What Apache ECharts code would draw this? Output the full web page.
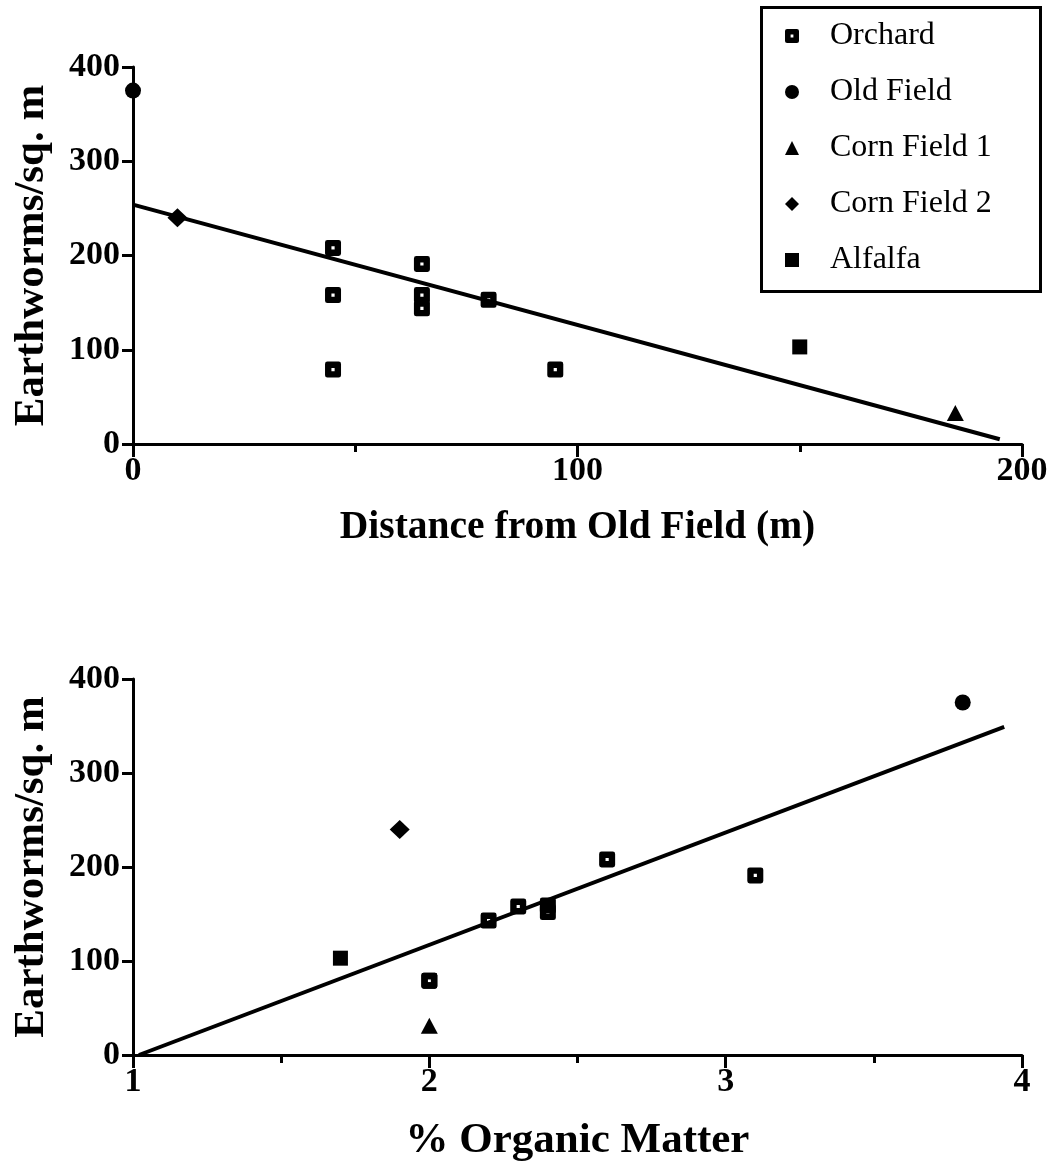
<!DOCTYPE html>
<html>
<head>
<meta charset="utf-8">
<script src="https://cdn.jsdelivr.net/npm/echarts@6/dist/echarts.min.js"></script>
<style>
html,body{margin:0;padding:0;background:#fff;}
#c{width:1064px;height:1169px;}
</style>
</head>
<body>
<div id="c"></div>
<script>
// ---------- data ----------
const seriesNames = ['Orchard', 'Old Field', 'Corn Field 1', 'Corn Field 2', 'Alfalfa'];

// Top panel: distance from Old Field (m) vs earthworms / sq. m
const orchardDist      = [45, 45, 45, 65, 65, 65, 80, 95];
const orchardDistCount = [208, 158, 79, 191, 158, 144, 153, 79];
const oldFieldDist      = [0];
const oldFieldDistCount = [375];
const corn1Dist      = [185];
const corn1DistCount = [33];
const corn2Dist      = [10];
const corn2DistCount = [240];
const alfalfaDist      = [150];
const alfalfaDistCount = [103];
const fitDistX = [0, 195];
const fitDistY = [254, 5];

// Bottom panel: % organic matter vs earthworms / sq. m
const orchardOM      = [2.6, 2.3, 2.0, 3.1, 2.4, 2.2, 2.4, 2.0];
const orchardOMCount = [208, 158, 79, 191, 159, 143, 152, 79];
const oldFieldOM      = [3.8];
const oldFieldOMCount = [375];
const corn1OM      = [2.0];
const corn1OMCount = [31];
const corn2OM      = [1.9];
const corn2OMCount = [240];
const alfalfaOM      = [1.7];
const alfalfaOMCount = [103];
const fitOMX = [1.02, 3.94];
const fitOMY = [0, 349];

// tick labels
const distTicks  = [0, 100, 200];
const omTicks    = [1, 2, 3, 4];
const countTicks = [0, 100, 200, 300, 400];

// ---------- helpers ----------
function pts(xs, ys) { return xs.map(function (x, i) { return [x, ys[i]]; }); }

const FONT = 'Liberation Serif';
const orchardSymbol = 'path://M1.5,0H8.5Q10,0 10,1.5V8.5Q10,10 8.5,10H1.5Q0,10 0,8.5V1.5Q0,0 1.5,0Z M4,4V6H6V4Z';
const symbols = {
  'Orchard':      { symbol: orchardSymbol, size: 16 },
  'Old Field':    { symbol: 'circle', size: 16 },
  'Corn Field 1': { symbol: 'triangle', size: [17, 16] },
  'Corn Field 2': { symbol: 'diamond', size: [20, 19] },
  'Alfalfa':      { symbol: 'rect', size: 15 }
};

function scatter(name, xs, ys, idx) {
  return {
    type: 'scatter', name: name, xAxisIndex: idx, yAxisIndex: idx,
    symbol: symbols[name].symbol, symbolSize: symbols[name].size,
    itemStyle: { color: '#000', opacity: 1 },
    data: pts(xs, ys), z: 5
  };
}
function fitLine(xs, ys, idx) {
  return {
    type: 'line', name: 'fit' + idx, xAxisIndex: idx, yAxisIndex: idx,
    data: pts(xs, ys), symbol: 'none', silent: true,
    lineStyle: { color: '#000', width: 4 }, z: 3
  };
}

const axisLine = { show: true, onZero: false, lineStyle: { color: '#000', width: 3 } };
const tickLabel = { fontFamily: FONT, fontWeight: 'bold', fontSize: 34, color: '#000' };
const nameStyle = { fontFamily: FONT, fontWeight: 'bold', fontSize: 39, color: '#000' };

function xAxis(idx, ticks, name, nameSize) {
  return {
    type: 'value', gridIndex: idx,
    min: ticks[0], max: ticks[ticks.length - 1], interval: ticks[1] - ticks[0],
    axisLine: axisLine,
    axisTick: { show: true, length: 13, lineStyle: { color: '#000', width: 3 } },
    minorTick: { show: true, splitNumber: 2, length: 8, lineStyle: { color: '#000', width: 3 } },
    splitLine: { show: false }, minorSplitLine: { show: false },
    axisLabel: Object.assign({ margin: 10 }, tickLabel),
    name: name, nameLocation: 'middle', nameGap: 64,
    nameTextStyle: Object.assign({}, nameStyle, { fontSize: nameSize })
  };
}
function yAxis(idx) {
  return {
    type: 'value', gridIndex: idx,
    min: countTicks[0], max: countTicks[countTicks.length - 1], interval: countTicks[1] - countTicks[0],
    axisLine: axisLine,
    axisTick: { show: true, length: 11, lineStyle: { color: '#000', width: 3 } },
    splitLine: { show: false },
    axisLabel: Object.assign({ margin: 13 }, tickLabel),
    name: 'Earthworms/sq. m', nameLocation: 'middle', nameGap: 80, nameRotate: 90,
    nameTextStyle: Object.assign({}, nameStyle, { fontSize: 43 })
  };
}

const chart = echarts.init(document.getElementById('c'), null, { renderer: 'canvas' });
chart.setOption({
  animation: false,
  backgroundColor: '#fff',
  grid: [
    { left: 133, top: 67, width: 889, height: 377 },
    { left: 133, top: 679, width: 889, height: 376 }
  ],
  xAxis: [
    xAxis(0, distTicks, 'Distance from Old Field (m)', 39.5),
    xAxis(1, omTicks, '% Organic Matter', 43)
  ],
  yAxis: [yAxis(0), yAxis(1)],
  legend: {
    data: seriesNames, orient: 'vertical', left: 785, top: 20, padding: 0,
    itemWidth: 14, itemHeight: 14, itemGap: 24, selectedMode: false,
    textStyle: { fontFamily: FONT, fontSize: 32, color: '#000', lineHeight: 32, padding: [0, 0, 0, 26] }
  },
  graphic: [{
    type: 'rect', left: 760, top: 6, z: 0, silent: true,
    shape: { width: 279, height: 284 },
    style: { fill: 'transparent', stroke: '#000', lineWidth: 3 }
  }],
  series: [
    fitLine(fitDistX, fitDistY, 0),
    scatter('Orchard', orchardDist, orchardDistCount, 0),
    scatter('Old Field', oldFieldDist, oldFieldDistCount, 0),
    scatter('Corn Field 1', corn1Dist, corn1DistCount, 0),
    scatter('Corn Field 2', corn2Dist, corn2DistCount, 0),
    scatter('Alfalfa', alfalfaDist, alfalfaDistCount, 0),
    fitLine(fitOMX, fitOMY, 1),
    scatter('Orchard', orchardOM, orchardOMCount, 1),
    scatter('Old Field', oldFieldOM, oldFieldOMCount, 1),
    scatter('Corn Field 1', corn1OM, corn1OMCount, 1),
    scatter('Corn Field 2', corn2OM, corn2OMCount, 1),
    scatter('Alfalfa', alfalfaOM, alfalfaOMCount, 1)
  ]
});
</script>
</body>
</html>
